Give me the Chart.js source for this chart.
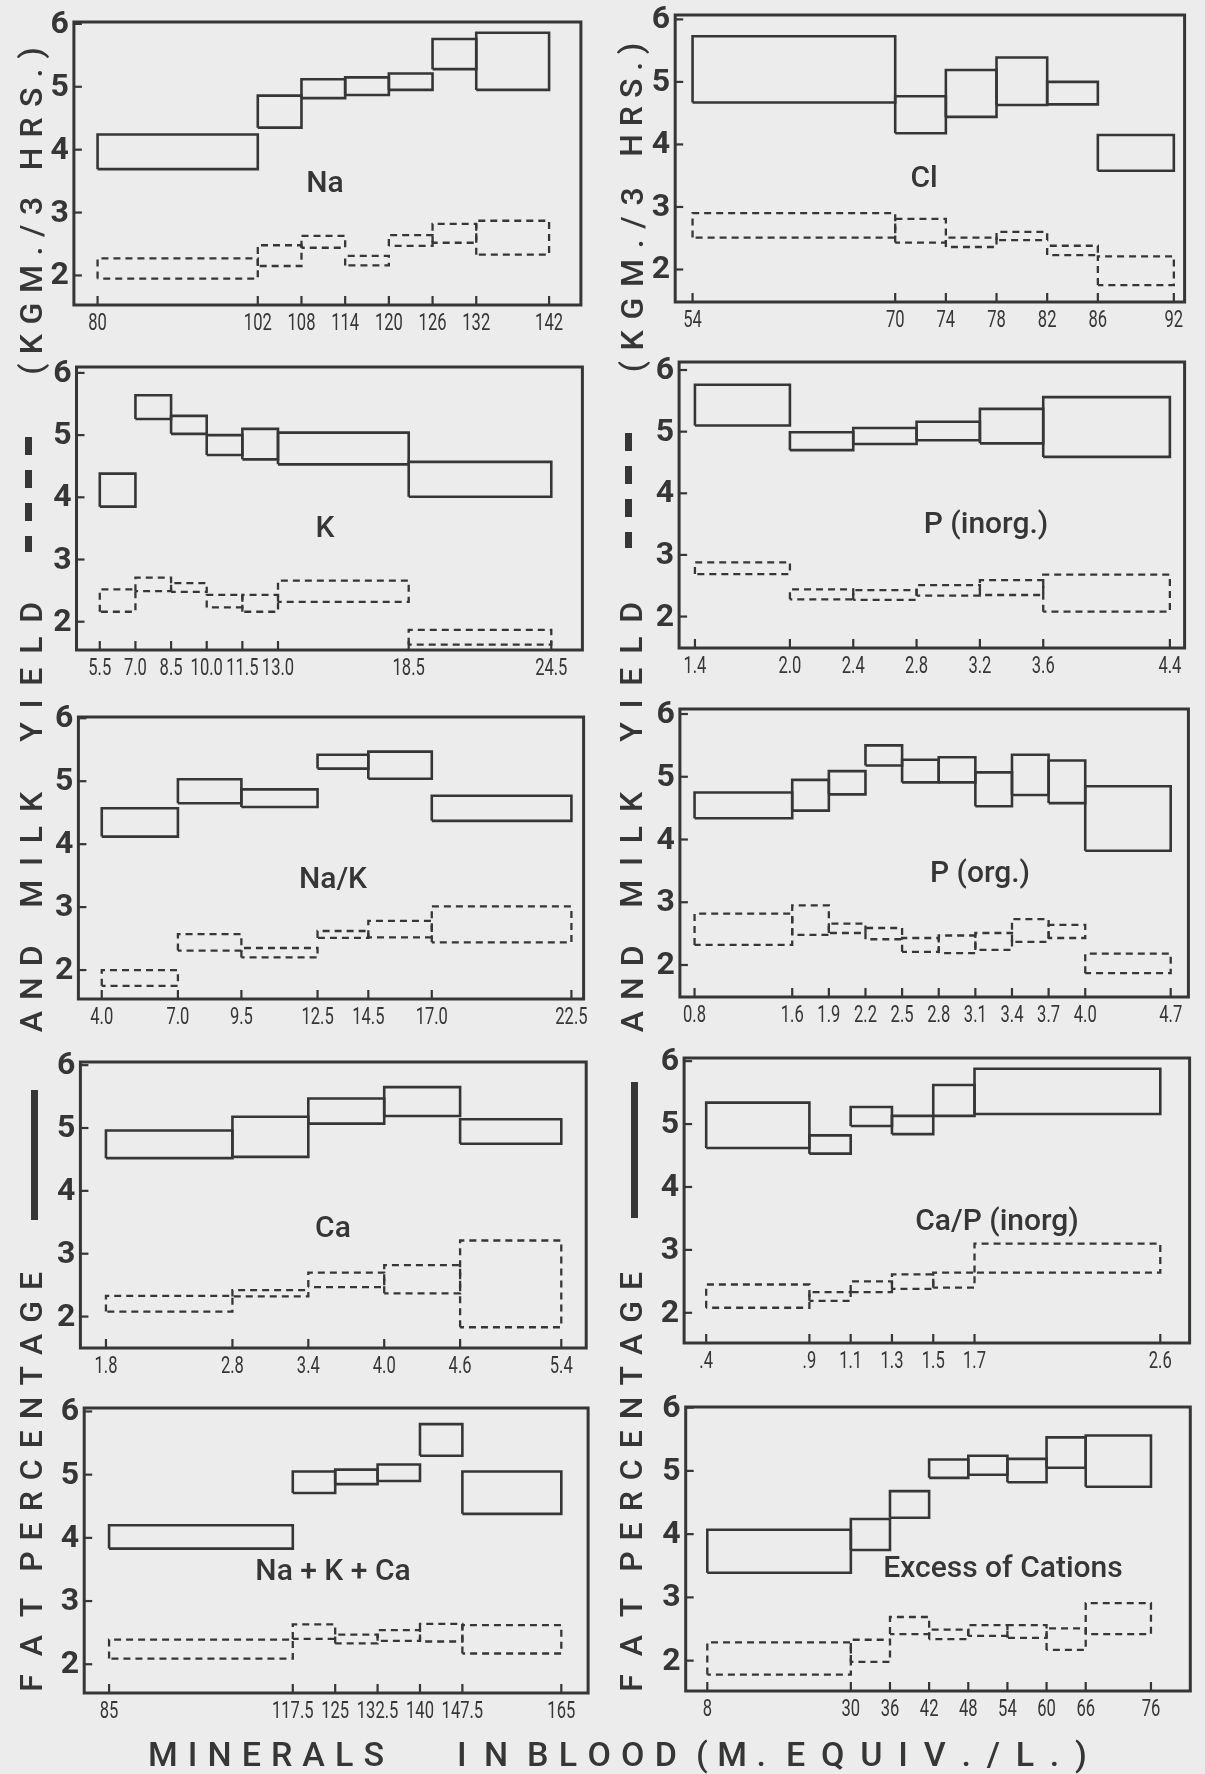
<!DOCTYPE html>
<html><head><meta charset="utf-8">
<script src="https://cdn.jsdelivr.net/npm/chart.js@4.4.0/dist/chart.umd.min.js"></script>
<style>
html,body{margin:0;padding:0;background:#ececec;overflow:hidden}
#page{position:relative;width:1205px;height:1774px;background:#ececec;overflow:hidden}
canvas{position:absolute}
.t{position:absolute;display:flex;justify-content:space-between;align-items:center;font-family:Roboto,"DejaVu Sans",sans-serif;font-weight:500;color:#363636;white-space:pre;line-height:1}
.lbl{position:absolute;font-family:Roboto,"DejaVu Sans",sans-serif;font-weight:500;color:#363636;white-space:nowrap;line-height:1}
.bar{position:absolute;background:#363636}
</style></head><body><div id="page"></div>
<script>
// ---------------- DATA ----------------
const yTickValues = [2, 3, 4, 5, 6];

const naBounds = [80, 102, 108, 114, 120, 126, 132, 142];
const naTicks = ["80", "102", "108", "114", "120", "126", "132", "142"];
const naFatLow = [3.69, 4.35, 4.82, 4.87, 4.95, 5.28, 4.95];
const naFatHigh = [4.24, 4.86, 5.12, 5.15, 5.21, 5.76, 5.86];
const naMilkLow = [1.95, 2.15, 2.44, 2.16, 2.47, 2.52, 2.33];
const naMilkHigh = [2.27, 2.48, 2.63, 2.31, 2.64, 2.82, 2.87];

const clBounds = [54, 70, 74, 78, 82, 86, 92];
const clTicks = ["54", "70", "74", "78", "82", "86", "92"];
const clFatLow = [4.67, 4.18, 4.44, 4.63, 4.64, 3.58];
const clFatHigh = [5.73, 4.77, 5.19, 5.39, 5.00, 4.15];
const clMilkLow = [2.51, 2.43, 2.36, 2.47, 2.23, 1.75];
const clMilkHigh = [2.90, 2.81, 2.51, 2.60, 2.38, 2.21];

const kBounds = [5.5, 7.0, 8.5, 10.0, 11.5, 13.0, 18.5, 24.5];
const kTicks = ["5.5", "7.0", "8.5", "10.0", "11.5", "13.0", "18.5", "24.5"];
const kFatLow = [3.85, 5.26, 5.02, 4.68, 4.61, 4.53, 4.01];
const kFatHigh = [4.38, 5.64, 5.31, 5.00, 5.10, 5.04, 4.57];
const kMilkLow = [2.16, 2.49, 2.48, 2.23, 2.16, 2.32, 1.63];
const kMilkHigh = [2.52, 2.71, 2.62, 2.43, 2.43, 2.66, 1.87];

const piBounds = [1.4, 2.0, 2.4, 2.8, 3.2, 3.6, 4.4];
const piTicks = ["1.4", "2.0", "2.4", "2.8", "3.2", "3.6", "4.4"];
const piFatLow = [5.10, 4.70, 4.80, 4.86, 4.81, 4.59];
const piFatHigh = [5.76, 4.99, 5.06, 5.16, 5.37, 5.56];
const piMilkLow = [2.69, 2.28, 2.27, 2.34, 2.35, 2.08];
const piMilkHigh = [2.88, 2.44, 2.43, 2.51, 2.59, 2.68];

const nakBounds = [4.0, 7.0, 9.5, 12.5, 14.5, 17.0, 22.5];
const nakTicks = ["4.0", "7.0", "9.5", "12.5", "14.5", "17.0", "22.5"];
const nakFatLow = [4.12, 4.65, 4.59, 5.20, 5.04, 4.37];
const nakFatHigh = [4.57, 5.03, 4.87, 5.42, 5.47, 4.77];
const nakMilkLow = [1.75, 2.31, 2.20, 2.51, 2.52, 2.44];
const nakMilkHigh = [2.00, 2.57, 2.35, 2.62, 2.78, 3.01];

const poBounds = [0.8, 1.6, 1.9, 2.2, 2.5, 2.8, 3.1, 3.4, 3.7, 4.0, 4.7];
const poTicks = ["0.8", "1.6", "1.9", "2.2", "2.5", "2.8", "3.1", "3.4", "3.7", "4.0", "4.7"];
const poFatLow = [4.34, 4.46, 4.72, 5.18, 4.91, 4.91, 4.53, 4.71, 4.58, 3.82];
const poFatHigh = [4.75, 4.95, 5.09, 5.50, 5.27, 5.31, 5.07, 5.35, 5.26, 4.85];
const poMilkLow = [2.32, 2.48, 2.51, 2.41, 2.21, 2.19, 2.24, 2.37, 2.43, 1.87];
const poMilkHigh = [2.82, 2.95, 2.66, 2.59, 2.43, 2.47, 2.51, 2.73, 2.64, 2.18];

const caBounds = [1.8, 2.8, 3.4, 4.0, 4.6, 5.4];
const caTicks = ["1.8", "2.8", "3.4", "4.0", "4.6", "5.4"];
const caFatLow = [4.52, 4.54, 5.07, 5.19, 4.75];
const caFatHigh = [4.96, 5.18, 5.47, 5.65, 5.14];
const caMilkLow = [2.08, 2.32, 2.47, 2.37, 1.83];
const caMilkHigh = [2.33, 2.42, 2.70, 2.82, 3.21];

const cpBounds = [0.4, 0.9, 1.1, 1.3, 1.5, 1.7, 2.6];
const cpTicks = [".4", ".9", "1.1", "1.3", "1.5", "1.7", "2.6"];
const cpFatLow = [4.62, 4.53, 4.97, 4.84, 5.13, 5.16];
const cpFatHigh = [5.34, 4.82, 5.27, 5.13, 5.62, 5.88];
const cpMilkLow = [2.08, 2.19, 2.33, 2.38, 2.40, 2.64];
const cpMilkHigh = [2.45, 2.33, 2.50, 2.61, 2.64, 3.10];

const nkcBounds = [85, 117.5, 125, 132.5, 140, 147.5, 165];
const nkcTicks = ["85", "117.5", "125", "132.5", "140", "147.5", "165"];
const nkcFatLow = [3.83, 4.71, 4.85, 4.90, 5.30, 4.38];
const nkcFatHigh = [4.20, 5.05, 5.08, 5.16, 5.80, 5.05];
const nkcMilkLow = [2.09, 2.40, 2.33, 2.37, 2.36, 2.17];
const nkcMilkHigh = [2.39, 2.63, 2.47, 2.54, 2.64, 2.62];

const exBounds = [8, 30, 36, 42, 48, 54, 60, 66, 76];
const exTicks = ["8", "30", "36", "42", "48", "54", "60", "66", "76"];
const exFatLow = [3.39, 3.75, 4.26, 4.89, 4.94, 4.82, 5.05, 4.75];
const exFatHigh = [4.07, 4.24, 4.68, 5.18, 5.24, 5.19, 5.53, 5.56];
const exMilkLow = [1.78, 1.98, 2.42, 2.34, 2.39, 2.36, 2.17, 2.42];
const exMilkHigh = [2.29, 2.33, 2.69, 2.49, 2.56, 2.56, 2.51, 2.91];

// ---------------- LAYOUT ----------------
const INK = '#363636';
const FONT = 'Roboto, "DejaVu Sans", sans-serif';
const page = document.getElementById('page');

const panels = [
  {name:'Na', b:naBounds, t:naTicks, fl:naFatLow, fh:naFatHigh, ml:naMilkLow, mh:naMilkHigh,
   frame:[73.9,22,580.9,305], xr:[76.75,146.37], yr:[1.53,6.03], lab:[325,182]},
  {name:'Cl', b:clBounds, t:clTicks, fl:clFatLow, fh:clFatHigh, ml:clMilkLow, mh:clMilkHigh,
   frame:[675.2,15,1184.6,302], xr:[52.63,92.85], yr:[1.48,6.07], lab:[924,177]},
  {name:'K', b:kBounds, t:kTicks, fl:kFatLow, fh:kFatHigh, ml:kMilkLow, mh:kMilkHigh,
   frame:[76.5,367,582.4,650], xr:[4.52,25.81], yr:[1.545,6.095], lab:[325,527]},
  {name:'P (inorg.)', b:piBounds, t:piTicks, fl:piFatLow, fh:piFatHigh, ml:piMilkLow, mh:piMilkHigh,
   frame:[679.1,362,1184.6,648], xr:[1.30,4.493], yr:[1.49,6.13], lab:[986,523]},
  {name:'Na/K', b:nakBounds, t:nakTicks, fl:nakFatLow, fh:nakFatHigh, ml:nakMilkLow, mh:nakMilkHigh,
   frame:[78.4,717,583.6,999], xr:[3.08,22.98], yr:[1.54,6.02], lab:[333,878]},
  {name:'P (org.)', b:poBounds, t:poTicks, fl:poFatLow, fh:poFatHigh, ml:poMilkLow, mh:poMilkHigh,
   frame:[679.9,709,1188.4,997], xr:[0.68,4.845], yr:[1.49,6.08], lab:[980,872]},
  {name:'Ca', b:caBounds, t:caTicks, fl:caFatLow, fh:caFatHigh, ml:caMilkLow, mh:caMilkHigh,
   frame:[80.4,1062,586.2,1348], xr:[1.598,5.597], yr:[1.50,6.05], lab:[333,1227]},
  {name:'Ca/P (inorg)', b:cpBounds, t:cpTicks, fl:cpFatLow, fh:cpFatHigh, ml:cpMilkLow, mh:cpMilkHigh,
   frame:[684.1,1058,1189.6,1343], xr:[0.293,2.742], yr:[1.52,6.05], lab:[997,1220]},
  {name:'Na + K + Ca', b:nkcBounds, t:nkcTicks, fl:nkcFatLow, fh:nkcFatHigh, ml:nkcMilkLow, mh:nkcMilkHigh,
   frame:[84.2,1408,588.1,1693], xr:[80.6,169.74], yr:[1.545,6.055], lab:[333,1570]},
  {name:'Excess of Cations', b:exBounds, t:exTicks, fl:exFatLow, fh:exFatHigh, ml:exMilkLow, mh:exMilkHigh,
   frame:[685.7,1407,1190.3,1691], xr:[4.69,82.03], yr:[1.52,6.01], lab:[1003,1567]}
];

const decor = {
  id: 'decor',
  afterDatasetsDraw(chart, args, opts) {
    const {ctx, chartArea: a, scales: {x, y}} = chart;
    ctx.save();
    ctx.strokeStyle = INK; ctx.fillStyle = INK;
    ctx.lineWidth = 3;
    ctx.strokeRect(a.left, a.top, a.right - a.left, a.bottom - a.top);
    ctx.lineWidth = 2.2;
    ctx.font = 'bold 32px ' + FONT;
    ctx.textAlign = 'right'; ctx.textBaseline = 'middle';
    yTickValues.forEach(v => {
      const py = y.getPixelForValue(v);
      ctx.beginPath(); ctx.moveTo(a.left, py); ctx.lineTo(a.left + 8, py); ctx.stroke();
      ctx.fillText(String(v), a.left - 5, py + 1);
    });
    ctx.font = '23px ' + FONT;
    ctx.textAlign = 'center';
    opts.bounds.forEach((v, i) => {
      const px = x.getPixelForValue(v);
      ctx.beginPath(); ctx.moveTo(px, a.bottom); ctx.lineTo(px, a.bottom - 9); ctx.stroke();
      ctx.save();
      ctx.translate(px, a.bottom + 19);
      ctx.scale(0.72, 1);
      ctx.fillText(opts.ticks[i], 0, 0);
      ctx.restore();
    });
    ctx.restore();
  }
};

function boxes(b, lo, hi, dashed) {
  return lo.map((l, i) => ({
    data: [{x:b[i], y:l}, {x:b[i], y:hi[i]}, {x:b[i+1], y:hi[i]}, {x:b[i+1], y:l}, {x:b[i], y:l}],
    showLine: true, fill: false, tension: 0,
    borderColor: INK, borderWidth: dashed ? 2.3 : 2.6,
    borderDash: dashed ? [7, 5] : [],
    pointRadius: 0, pointHoverRadius: 0
  }));
}

panels.forEach(p => {
  const [L, T, R, B] = p.frame;
  const cl = Math.floor(L) - 72, ct = Math.floor(T) - 22;
  const cw = Math.ceil(R) - cl + 16, ch = Math.ceil(B) - ct + 42;
  const cv = document.createElement('canvas');
  cv.width = cw; cv.height = ch;
  cv.style.left = cl + 'px'; cv.style.top = ct + 'px';
  cv.style.width = cw + 'px'; cv.style.height = ch + 'px';
  page.appendChild(cv);
  new Chart(cv, {
    type: 'scatter',
    data: {datasets: [...boxes(p.b, p.fl, p.fh, false), ...boxes(p.b, p.ml, p.mh, true)]},
    options: {
      responsive: false, animation: false, devicePixelRatio: 1, events: [],
      layout: {padding: {left: L - cl, top: T - ct, right: cw - (R - cl), bottom: ch - (B - ct)}},
      scales: {
        x: {type: 'linear', display: false, min: p.xr[0], max: p.xr[1]},
        y: {type: 'linear', display: false, min: p.yr[0], max: p.yr[1]}
      },
      plugins: {legend: {display: false}, tooltip: {enabled: false},
        decor: {bounds: p.b, ticks: p.t}}
    },
    plugins: [decor]
  });
  const d = document.createElement('div');
  d.className = 'lbl';
  d.textContent = p.name;
  d.style.fontSize = '30px';
  d.style.left = p.lab[0] + 'px'; d.style.top = p.lab[1] + 'px';
  d.style.transform = 'translate(-50%,-50%)';
  page.appendChild(d);
});

// ---------------- AXIS TITLES ----------------
function spread(text, x1, x2, cy, size, rotate) {
  const d = document.createElement('div');
  d.className = 't';
  const w = x2 - x1, h = size * 1.3;
  d.style.width = w + 'px'; d.style.height = h + 'px';
  d.style.fontSize = size + 'px';
  if (rotate) {
    d.style.left = (cy - w / 2) + 'px';
    d.style.top = ((x1 + x2) / 2 - h / 2) + 'px';
    d.style.transform = 'rotate(-90deg)';
  } else {
    d.style.left = x1 + 'px';
    d.style.top = (cy - h / 2) + 'px';
  }
  for (const ch of text) {
    const s = document.createElement('span');
    s.textContent = ch;
    d.appendChild(s);
  }
  page.appendChild(d);
}
function bar(cx, y1, y2, w, dashed) {
  const d = document.createElement('div');
  d.className = 'bar';
  d.style.left = (cx - w / 2) + 'px'; d.style.top = y1 + 'px';
  d.style.width = w + 'px'; d.style.height = (y2 - y1) + 'px';
  if (dashed) {
    d.style.background = 'repeating-linear-gradient(to bottom,' + INK + ' 0 18px,transparent 18px 33px)';
  }
  page.appendChild(d);
}

const titleCols = [
  {cx: 30.6, solid: [34.4, 1090, 1220], dash: [28.7, 437, 552], hrs: [47, 170], kgm: [197, 375]},
  {cx: 631, solid: [634.7, 1082, 1218], dash: [628.9, 433, 548], hrs: [43, 157], kgm: [187, 372]}
];
titleCols.forEach(c => {
  spread('FAT', 1598, 1692, c.cx, 32, true);
  spread('PERCENTAGE', 1272, 1572, c.cx, 32, true);
  bar(c.solid[0], c.solid[1], c.solid[2], 7, false);
  spread('AND', 945, 1032, c.cx, 32, true);
  spread('MILK', 792, 908, c.cx, 32, true);
  spread('YIELD', 602, 742, c.cx, 32, true);
  bar(c.dash[0], c.dash[1], c.dash[2], 7, true);
  spread('(KGM./3', c.kgm[0], c.kgm[1], c.cx, 32, true);
  spread('HRS.)', c.hrs[0], c.hrs[1], c.cx, 32, true);
});

spread('MINERALS', 148, 384, 1754, 34, false);
spread('IN', 457, 508, 1754, 34, false);
spread('BLOOD', 527, 677, 1754, 34, false);
spread('(M.', 696, 766, 1754, 34, false);
spread('EQUIV./L.)', 786, 1087, 1754, 34, false);
</script>
</body></html>
